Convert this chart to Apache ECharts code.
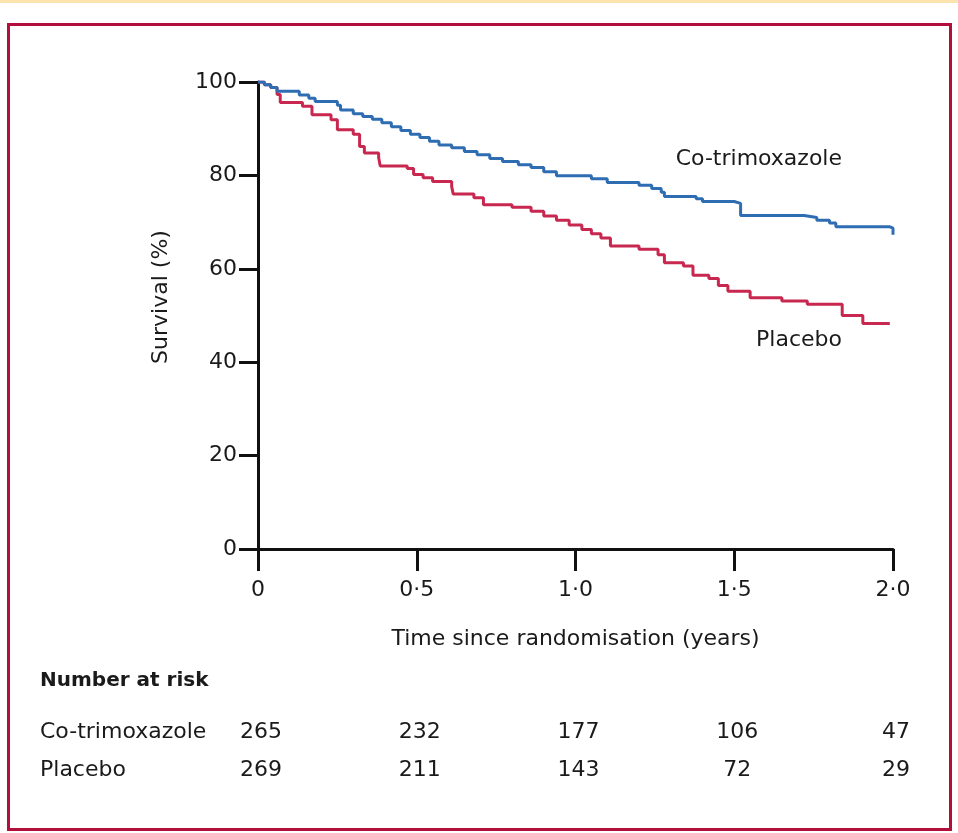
<!DOCTYPE html>
<html>
<head>
<meta charset="utf-8">
<script src="https://cdn.jsdelivr.net/npm/echarts@6/dist/echarts.min.js"></script>
<style>html,body{margin:0;padding:0;background:#fff;}#c{width:958px;height:833px;}</style>
</head>
<body>
<div id="c"></div>
<script>
// ---- data ----
const seriesNames = ['Co-trimoxazole', 'Placebo'];
const timesCotrim = [0, 0.02, 0.04, 0.06, 0.13, 0.16, 0.18, 0.25, 0.26, 0.30, 0.33, 0.36, 0.39, 0.42, 0.45, 0.48, 0.51, 0.54, 0.57, 0.61, 0.65, 0.69, 0.73, 0.77, 0.82, 0.86, 0.90, 0.94, 1.05, 1.10, 1.20, 1.24, 1.27, 1.28, 1.38, 1.40, 1.50, 1.52, 1.72, 1.76, 1.80, 1.82, 1.99, 2.0];
const survCotrim  = [100, 99.4, 98.8, 98.0, 97.2, 96.5, 95.8, 95.0, 94.0, 93.2, 92.6, 92.0, 91.3, 90.4, 89.6, 88.8, 88.1, 87.3, 86.5, 85.9, 85.1, 84.4, 83.6, 83.0, 82.3, 81.7, 80.8, 79.9, 79.3, 78.5, 77.9, 77.2, 76.4, 75.5, 75.0, 74.4, 74.0, 71.4, 71.0, 70.4, 69.8, 69.0, 68.7, 67.3];
const timesPlacebo = [0, 0.02, 0.04, 0.06, 0.07, 0.14, 0.17, 0.23, 0.25, 0.30, 0.32, 0.335, 0.38, 0.385, 0.47, 0.49, 0.52, 0.55, 0.61, 0.615, 0.68, 0.71, 0.80, 0.86, 0.90, 0.94, 0.98, 1.02, 1.05, 1.08, 1.11, 1.20, 1.26, 1.28, 1.34, 1.37, 1.42, 1.45, 1.48, 1.55, 1.65, 1.73, 1.84, 1.905, 1.99];
const survPlacebo  = [100, 99.4, 98.8, 97.3, 95.6, 94.8, 93.0, 91.9, 89.8, 88.8, 86.2, 84.8, 83.8, 82.0, 81.5, 80.2, 79.5, 78.7, 77.6, 76.0, 75.2, 73.7, 73.2, 72.3, 71.3, 70.4, 69.4, 68.4, 67.5, 66.6, 64.9, 64.2, 63.0, 61.3, 60.6, 58.6, 57.9, 56.4, 55.2, 53.8, 53.1, 52.4, 50.0, 48.3, 48.3];
const xTicks = [0, 0.5, 1, 1.5, 2];
const xTickLabels = ['0', '0·5', '1·0', '1·5', '2·0'];
const yTicks = [0, 20, 40, 60, 80, 100];
const atRiskTimes = [0, 0.5, 1, 1.5, 2];
const atRiskCotrim = [265, 232, 177, 106, 47];
const atRiskPlacebo = [269, 211, 143, 72, 29];
const xTitle = 'Time since randomisation (years)';
const yTitle = 'Survival (%)';
const atRiskTitle = 'Number at risk';

// ---- styles ----
const FONT = 'DejaVu Sans';
const FS = 22;
const TXT = '#1a1a1a';
const BLUE = '#2f6db2';
const RED = '#c8284f';
const BORDER = '#b30f3d';

const zip = (a, b) => a.map((v, i) => [v, b[i]]);

const chart = echarts.init(document.getElementById('c'), null, {renderer: 'canvas'});
chart.setOption({
  backgroundColor: '#ffffff',
  animation: false,
  grid: {left: 258, right: 65, top: 82, bottom: 284, containLabel: false},
  xAxis: {
    type: 'value', min: 0, max: 2, interval: 0.5,
    name: xTitle, nameLocation: 'middle', nameGap: 79,
    nameTextStyle: {fontFamily: FONT, fontSize: FS, color: TXT},
    axisLine: {show: true, lineStyle: {color: '#111', width: 3}},
    axisTick: {show: true, length: 22, lineStyle: {color: '#111', width: 3}},
    axisLabel: {
      margin: 30, fontFamily: FONT, fontSize: FS, color: TXT,
      formatter: v => { const i = xTicks.findIndex(t => Math.abs(t - v) < 1e-9); return i >= 0 ? xTickLabels[i] : ''; }
    },
    splitLine: {show: false}
  },
  yAxis: {
    type: 'value', min: 0, max: 100, interval: 20,
    axisLine: {show: true, lineStyle: {color: '#111', width: 3}},
    axisTick: {show: true, length: 19, lineStyle: {color: '#111', width: 3}},
    axisLabel: {margin: 21, fontFamily: FONT, fontSize: FS, color: TXT},
    splitLine: {show: false}
  },
  series: [
    {name: seriesNames[1], type: 'line', step: 'end', symbol: 'none', data: zip(timesPlacebo, survPlacebo),
     lineStyle: {color: RED, width: 3}, z: 2},
    {name: seriesNames[0], type: 'line', step: 'end', symbol: 'none', data: zip(timesCotrim, survCotrim),
     lineStyle: {color: BLUE, width: 3}, z: 3}
  ]
});

const px = t => chart.convertToPixel({xAxisIndex: 0}, t);
const txt = (x, y, s, opt) => Object.assign({
  type: 'text', x: x, y: y,
  style: Object.assign({text: String(s), fontFamily: FONT, fontSize: FS, fill: TXT, textAlign: 'left', textVerticalAlign: 'middle'}, opt || {})
});

const g = [];
g.push({type: 'rect', shape: {x: 0, y: 0, width: 958, height: 3}, style: {fill: '#fde3ad'}, silent: true});
g.push({type: 'rect', shape: {x: 8.5, y: 24.5, width: 942, height: 805}, style: {fill: 'none', stroke: BORDER, lineWidth: 3}, silent: true});
// y-axis title
g.push({type: 'text', x: 161, y: 297, rotation: Math.PI / 2,
  style: {text: yTitle, fontFamily: FONT, fontSize: FS, fill: TXT, textAlign: 'center', textVerticalAlign: 'middle'}});
// series labels
g.push(txt(842, 159, seriesNames[0], {textAlign: 'right'}));
g.push(txt(842, 340, seriesNames[1], {textAlign: 'right'}));
// number at risk table
g.push(txt(40, 681, atRiskTitle, {fontWeight: 'bold', fontSize: 20}));
g.push(txt(40, 732, seriesNames[0]));
g.push(txt(40, 770, seriesNames[1]));
atRiskTimes.forEach((t, i) => {
  const x = px(t) + 3;
  g.push(txt(x, 732, atRiskCotrim[i], {textAlign: 'center'}));
  g.push(txt(x, 770, atRiskPlacebo[i], {textAlign: 'center'}));
});
chart.setOption({graphic: g});
</script>
</body>
</html>
